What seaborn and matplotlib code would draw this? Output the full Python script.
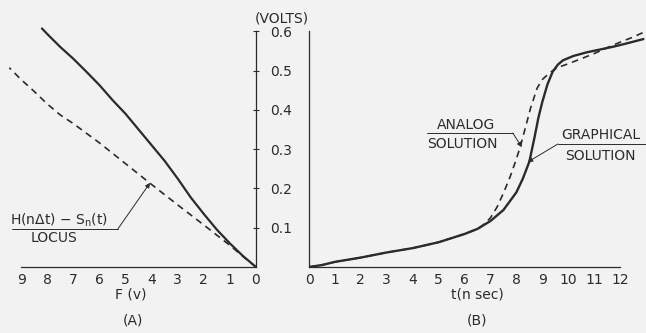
import matplotlib
matplotlib.use("Agg")
import matplotlib.pyplot as plt
import seaborn as sns
import pandas as pd

# ---- data ----
# panel A : F(v) against volts
a_solid_f = [0, 0.5, 1, 1.5, 2, 2.5, 3, 3.5, 4, 4.5, 5, 5.5, 6, 6.5, 7, 7.5, 8, 8.2]
a_solid_v = [0, 0.028, 0.06, 0.095, 0.135, 0.177, 0.225, 0.27, 0.31, 0.35, 0.39,
             0.425, 0.463, 0.497, 0.53, 0.56, 0.593, 0.607]
a_dash_f = [0, 0.5, 1, 2, 3, 4, 5, 6, 7, 7.5, 8, 8.5, 9, 9.45]
a_dash_v = [0, 0.027, 0.055, 0.107, 0.158, 0.21, 0.263, 0.316, 0.365, 0.387,
            0.415, 0.447, 0.477, 0.507]

# panel B : t (n sec) against volts
b_graph_t = [0, 0.5, 1, 2, 3, 4, 5, 6, 6.5, 7, 7.5, 8, 8.25, 8.5, 8.7, 8.85, 9.0,
             9.2, 9.4, 9.6, 9.8, 10.2, 10.7, 11.2, 11.7, 12.2, 12.9]
b_graph_v = [0, 0.005, 0.013, 0.024, 0.037, 0.048, 0.063, 0.084, 0.097, 0.117,
             0.145, 0.19, 0.225, 0.268, 0.33, 0.38, 0.42, 0.465, 0.497, 0.515,
             0.526, 0.537, 0.546, 0.553, 0.56, 0.568, 0.58]
b_analog_t = [0, 0.5, 1, 2, 3, 4, 5, 6, 6.5, 6.7, 7, 7.25, 7.5, 7.75, 8, 8.15, 8.35,
              8.55, 8.8, 9.0, 9.3, 9.6, 10, 10.5, 11, 11.5, 12, 12.5, 12.9]
b_analog_v = [0, 0.005, 0.013, 0.024, 0.037, 0.048, 0.063, 0.084, 0.097, 0.106,
              0.125, 0.152, 0.188, 0.228, 0.275, 0.306, 0.355, 0.405, 0.455, 0.477,
              0.495, 0.508, 0.517, 0.53, 0.543, 0.558, 0.572, 0.585, 0.597]

a_xticks = [9, 8, 7, 6, 5, 4, 3, 2, 1, 0]
b_xticks = list(range(0, 13))
volt_ticks = [0.1, 0.2, 0.3, 0.4, 0.5, 0.6]
volt_labels = ["0.1", "0.2", "0.3", "0.4", "0.5", "0.6"]

bg = "#f2f2f2"
ink = "#2b2b2b"

sns.set_theme(style="white")
plt.rcParams["font.family"] = ["DejaVu Sans"]
plt.rcParams["mathtext.default"] = "regular"
plt.rcParams["axes.facecolor"] = bg
plt.rcParams["figure.facecolor"] = bg
plt.rcParams["text.color"] = ink
plt.rcParams["axes.labelcolor"] = ink
plt.rcParams["xtick.color"] = ink
plt.rcParams["ytick.color"] = ink

fig = plt.figure(figsize=(6.46, 3.33), dpi=100)
W, H = 646.0, 333.0
y0, y1 = 0.0, 0.63
ppv = 393.0  # pixels per volt
bottom = (H - 267) / H
height = (y1 - y0) * ppv / H

ax_a = fig.add_axes([5.4 / W, bottom, (256 - 5.4) / W, height])
ax_b = fig.add_axes([309 / W, bottom, (646 - 309) / W, height])

df_a1 = pd.DataFrame({"F": a_solid_f, "V": a_solid_v})
df_a2 = pd.DataFrame({"F": a_dash_f, "V": a_dash_v})
sns.lineplot(data=df_a1, x="F", y="V", ax=ax_a, color=ink, lw=1.6, sort=False)
sns.lineplot(data=df_a2, x="F", y="V", ax=ax_a, color=ink, lw=1.2, sort=False,
             linestyle=(0, (4, 3)))

df_b1 = pd.DataFrame({"t": b_graph_t, "V": b_graph_v})
df_b2 = pd.DataFrame({"t": b_analog_t, "V": b_analog_v})
sns.lineplot(data=df_b1, x="t", y="V", ax=ax_b, color=ink, lw=1.7, sort=False)
sns.lineplot(data=df_b2, x="t", y="V", ax=ax_b, color=ink, lw=1.2, sort=False,
             linestyle=(0, (4, 3)))

# axes A
ax_a.set_xlim(9.6, 0)
ax_a.set_ylim(y0, y1)
ax_a.spines["top"].set_visible(False)
ax_a.spines["left"].set_visible(False)
ax_a.spines["bottom"].set_bounds(0, 9)
ax_a.spines["right"].set_bounds(0, 0.6)
ax_a.yaxis.tick_right()
ax_a.set_yticks(volt_ticks)
ax_a.set_yticklabels([])
ax_a.set_xticks(a_xticks)
ax_a.set_xticklabels([str(v) for v in a_xticks])
ax_a.set_xlabel("F (v)", fontsize=10, labelpad=0)
ax_a.set_ylabel("")

# axes B
ax_b.set_xlim(0, 13.0)
ax_b.set_ylim(y0, y1)
ax_b.spines["top"].set_visible(False)
ax_b.spines["right"].set_visible(False)
ax_b.spines["bottom"].set_bounds(0, 12)
ax_b.spines["left"].set_bounds(0, 0.6)
ax_b.set_yticks(volt_ticks)
ax_b.set_yticklabels(volt_labels)
ax_b.set_xticks(b_xticks)
ax_b.set_xticklabels([str(v) for v in b_xticks])
ax_b.set_xlabel("t(n sec)", fontsize=10, labelpad=0)
ax_b.set_ylabel("")

for ax in (ax_a, ax_b):
    for s in ax.spines.values():
        s.set_color(ink)
        s.set_linewidth(0.9)
    ax.tick_params(axis="both", direction="inout", length=5, width=0.8,
                   labelsize=10, pad=2)
ax_b.tick_params(axis="y", pad=10)

fig.text(282 / W, 1 - 18 / H, "(VOLTS)", ha="center", va="center", fontsize=10)
fig.text(133 / W, 1 - 320 / H, "(A)", ha="center", va="center", fontsize=10)
fig.text(477 / W, 1 - 320 / H, "(B)", ha="center", va="center", fontsize=10)

arrow = dict(arrowstyle="-|>", lw=0.7, color=ink, mutation_scale=7,
             shrinkA=0, shrinkB=0)

# label on A
ax_a.text(9.43, 0.12, "H(n\u0394t) \u2212 S$_n$(t)", ha="left", va="center",
          fontsize=10)
ax_a.plot([9.35, 5.29], [0.097, 0.097], color=ink, lw=0.7, clip_on=False)
ax_a.annotate("", xy=(4.06, 0.214), xytext=(5.29, 0.097), arrowprops=arrow)
ax_a.text(7.74, 0.074, "LOCUS", ha="center", va="center", fontsize=10)

# labels on B
ax_b.text(6.05, 0.361, "ANALOG", ha="center", va="center", fontsize=10)
ax_b.plot([4.55, 7.86], [0.341, 0.341], color=ink, lw=0.7, clip_on=False)
ax_b.annotate("", xy=(8.21, 0.305), xytext=(7.86, 0.341), arrowprops=arrow)
ax_b.text(5.93, 0.313, "SOLUTION", ha="center", va="center", fontsize=10)

ax_b.text(11.25, 0.336, "GRAPHICAL", ha="center", va="center", fontsize=10)
ax_b.plot([9.6, 12.99], [0.313, 0.313], color=ink, lw=0.7, clip_on=False)
ax_b.annotate("", xy=(8.44, 0.267), xytext=(9.6, 0.313), arrowprops=arrow)
ax_b.text(11.25, 0.282, "SOLUTION", ha="center", va="center", fontsize=10)

fig.savefig("out.png", dpi=100, facecolor=bg)
